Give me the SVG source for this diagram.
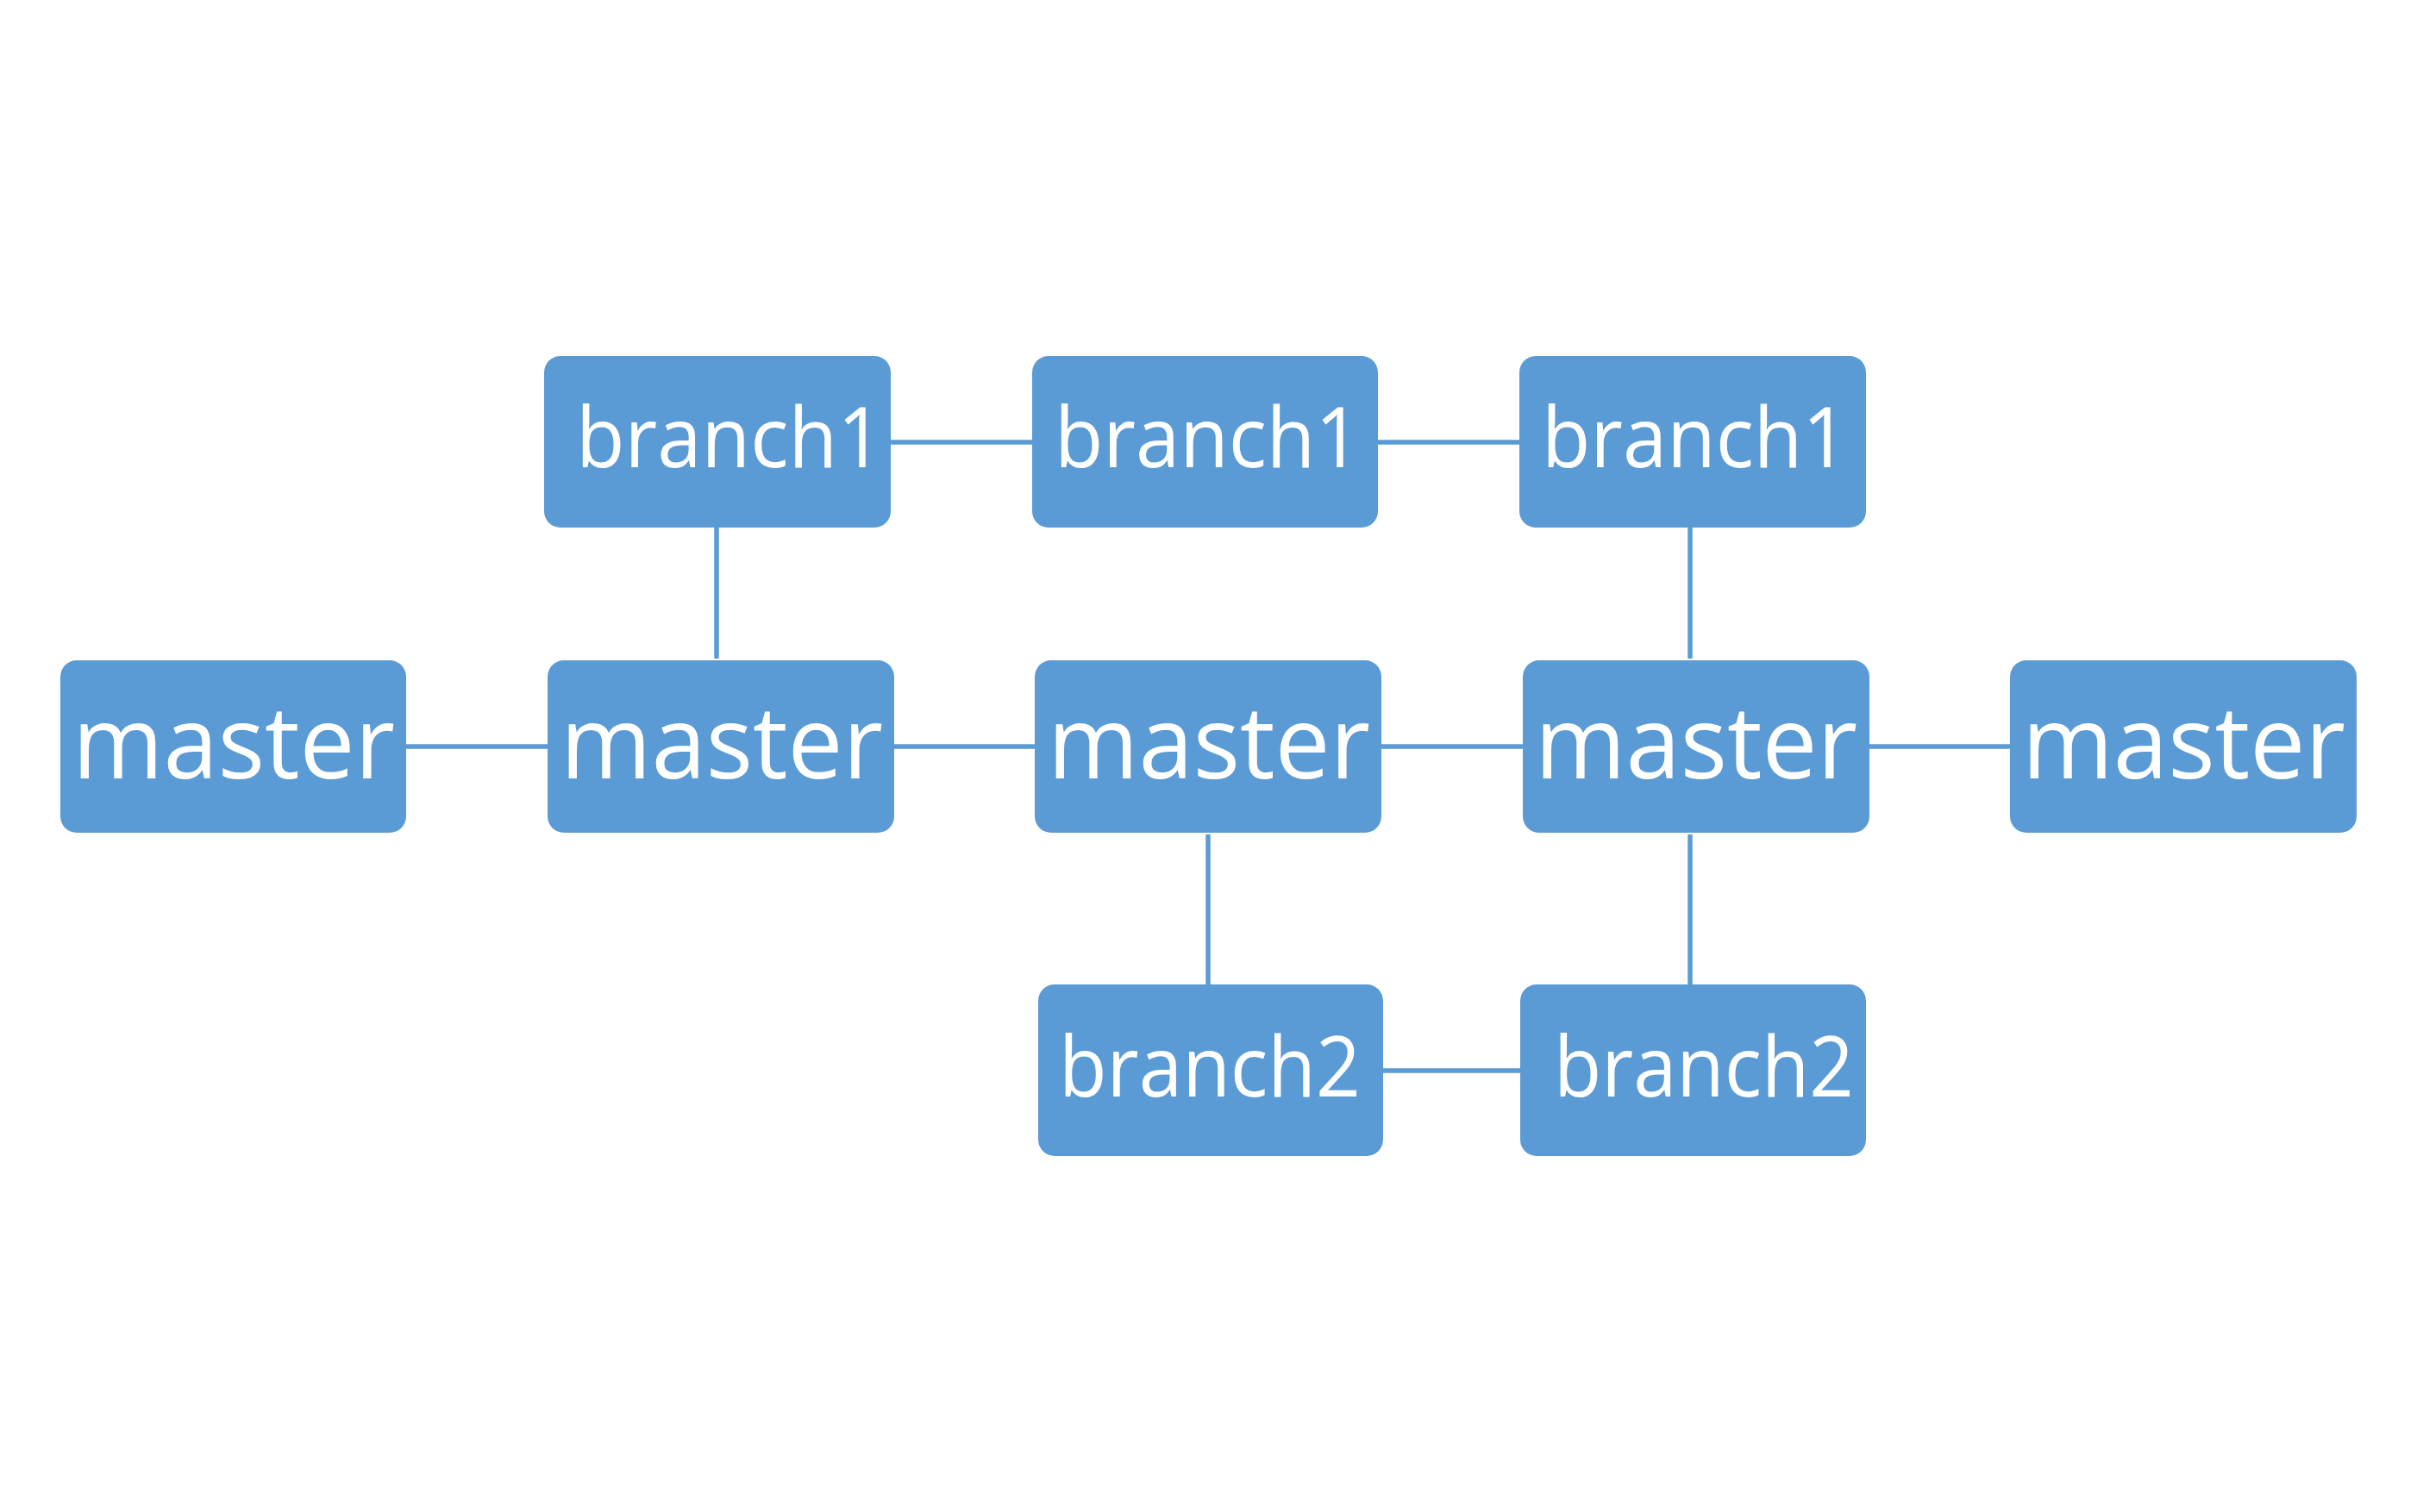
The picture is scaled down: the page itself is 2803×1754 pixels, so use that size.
<svg xmlns="http://www.w3.org/2000/svg" width="2803" height="1754" viewBox="0 0 2803 1754">
<style>
.box{fill:#5B9BD5}
.lbl{fill:#FFFFFF;font-family:"Open Sans","Noto Sans","Liberation Sans",sans-serif}
.b{font-size:97px}
.m{font-size:118px}
.c{stroke:#5B9BD5;stroke-width:5.5;fill:none}
</style>
<rect width="2803" height="1754" fill="#FFFFFF"/>
<g id="connectors">
<line class="c" x1="1033" y1="513" x2="1197" y2="513"/>
<line class="c" x1="1598" y1="513" x2="1762" y2="513"/>
<line class="c" x1="471" y1="866" x2="635" y2="866"/>
<line class="c" x1="1037" y1="866" x2="1200" y2="866"/>
<line class="c" x1="1602" y1="866" x2="1766" y2="866"/>
<line class="c" x1="2168" y1="866" x2="2331" y2="866"/>
<line class="c" x1="1604" y1="1242" x2="1763" y2="1242"/>
<line class="c" x1="831" y1="612" x2="831" y2="764"/>
<line class="c" x1="1960" y1="612" x2="1960" y2="764"/>
<line class="c" x1="1401" y1="968" x2="1401" y2="1142"/>
<line class="c" x1="1960" y1="968" x2="1960" y2="1142"/>
</g>
<g id="branch1-a"><rect class="box" x="631" y="413" width="402" height="199" rx="19"/><text class="lbl b" x="668" y="542" textLength="356" lengthAdjust="spacingAndGlyphs">branch1</text></g>
<g id="branch1-b"><rect class="box" x="1197" y="413" width="401" height="199" rx="19"/><text class="lbl b" x="1223" y="542" textLength="355" lengthAdjust="spacingAndGlyphs">branch1</text></g>
<g id="branch1-c"><rect class="box" x="1762" y="413" width="402" height="199" rx="19"/><text class="lbl b" x="1788" y="542" textLength="355" lengthAdjust="spacingAndGlyphs">branch1</text></g>
<g id="master-1"><rect class="box" x="70" y="766" width="401" height="200" rx="19"/><text class="lbl m" x="84" y="903" textLength="374" lengthAdjust="spacingAndGlyphs">master</text></g>
<g id="master-2"><rect class="box" x="635" y="766" width="402" height="200" rx="19"/><text class="lbl m" x="650" y="903" textLength="374" lengthAdjust="spacingAndGlyphs">master</text></g>
<g id="master-3"><rect class="box" x="1200" y="766" width="402" height="200" rx="19"/><text class="lbl m" x="1215" y="903" textLength="374" lengthAdjust="spacingAndGlyphs">master</text></g>
<g id="master-4"><rect class="box" x="1766" y="766" width="402" height="200" rx="19"/><text class="lbl m" x="1780" y="903" textLength="374" lengthAdjust="spacingAndGlyphs">master</text></g>
<g id="master-5"><rect class="box" x="2331" y="766" width="402" height="200" rx="19"/><text class="lbl m" x="2345" y="903" textLength="375" lengthAdjust="spacingAndGlyphs">master</text></g>
<g id="branch2-a"><rect class="box" x="1204" y="1142" width="400" height="199" rx="19"/><text class="lbl b" x="1228" y="1272" textLength="350" lengthAdjust="spacingAndGlyphs">branch2</text></g>
<g id="branch2-b"><rect class="box" x="1763" y="1142" width="401" height="199" rx="19"/><text class="lbl b" x="1802" y="1272" textLength="348" lengthAdjust="spacingAndGlyphs">branch2</text></g>
</svg>
